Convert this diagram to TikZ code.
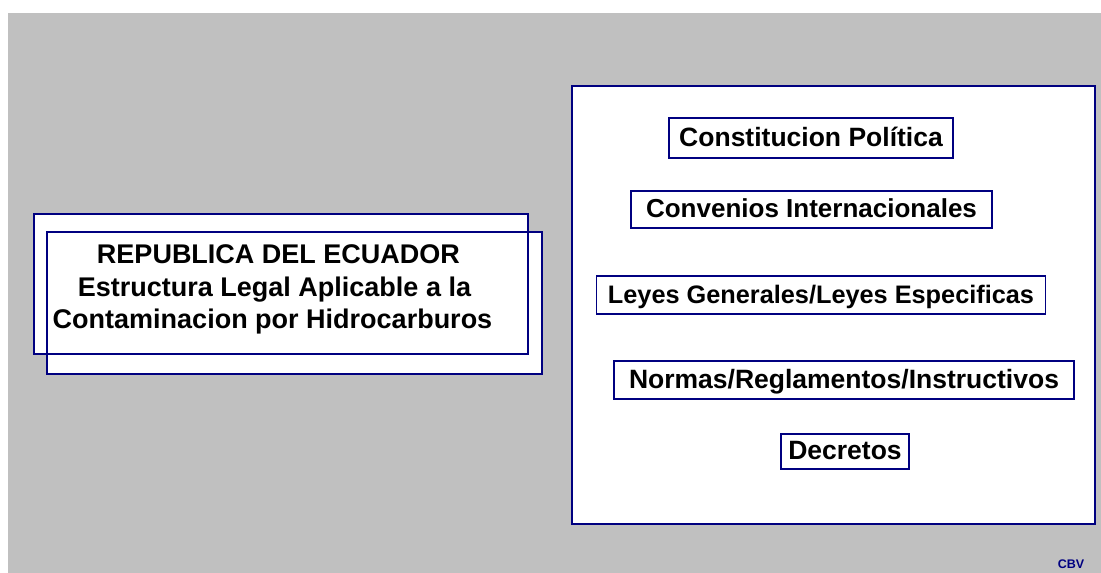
\documentclass[tikz,border=0pt]{standalone}
\usepackage{fontspec}
\setmainfont{Liberation Sans}
\definecolor{navyb}{RGB}{0,0,128}
\definecolor{bg}{RGB}{192,192,192}
\begin{document}
\begin{tikzpicture}[x=1pt,y=-1pt,
  frame/.style={draw=navyb, line width=1.3pt, inner sep=0pt, outer sep=0pt},
  lbl/.style={frame, fill=white, font=\fontsize{26.5}{30}\selectfont\bfseries, text height=17pt, text depth=1pt},
  titletext/.style={font=\fontsize{27}{32}\selectfont\bfseries, anchor=base, inner sep=0pt}]
\useasboundingbox (0,0) rectangle (1101,573);
\fill[white] (0,0) rectangle (1101,573);
\fill[bg] (8,13) rectangle (1101,573);
% left title boxes
\fill[white] (47,232) rectangle (542,374);
\node[frame, fill=white, minimum width=494pt, minimum height=140pt] (back) at (281,284) {};
\node[frame, minimum width=495pt, minimum height=142pt] (front) at (294.5,303) {};
\node[titletext] (t1) at (278.5,263) {REPUBLICA DEL ECUADOR};
\node[titletext] (t2) at (274.5,296) {Estructura Legal Aplicable a la};
\node[titletext] (t3) at (272.5,328) {Contaminacion por Hidrocarburos};
% right panel
\node[frame, fill=white, minimum width=523pt, minimum height=438pt] (panel) at (833.5,305) {};
\node[lbl, minimum width=284pt, minimum height=40pt] (cp) at (811,138) {Constitucion Política};
\node[lbl, minimum width=361pt, minimum height=37pt, font=\fontsize{26}{30}\selectfont\bfseries] (ci) at (811.5,209.5) {Convenios Internacionales};
\node[lbl, minimum width=449pt, minimum height=38pt, font=\fontsize{25.3}{30}\selectfont\bfseries] (lg) at (821,295) {Leyes Generales/Leyes Especificas};
\node[lbl, minimum width=460pt, minimum height=38pt] (nr) at (844,380) {Normas/Reglamentos/Instructivos};
\node[lbl, minimum width=128pt, minimum height=35pt] (dc) at (845,451.5) {Decretos};
\node[anchor=base, inner sep=0pt, text=navyb, font=\fontsize{12.5}{15}\selectfont\bfseries] (cbv) at (1071,568) {CBV};
\end{tikzpicture}
\end{document}
